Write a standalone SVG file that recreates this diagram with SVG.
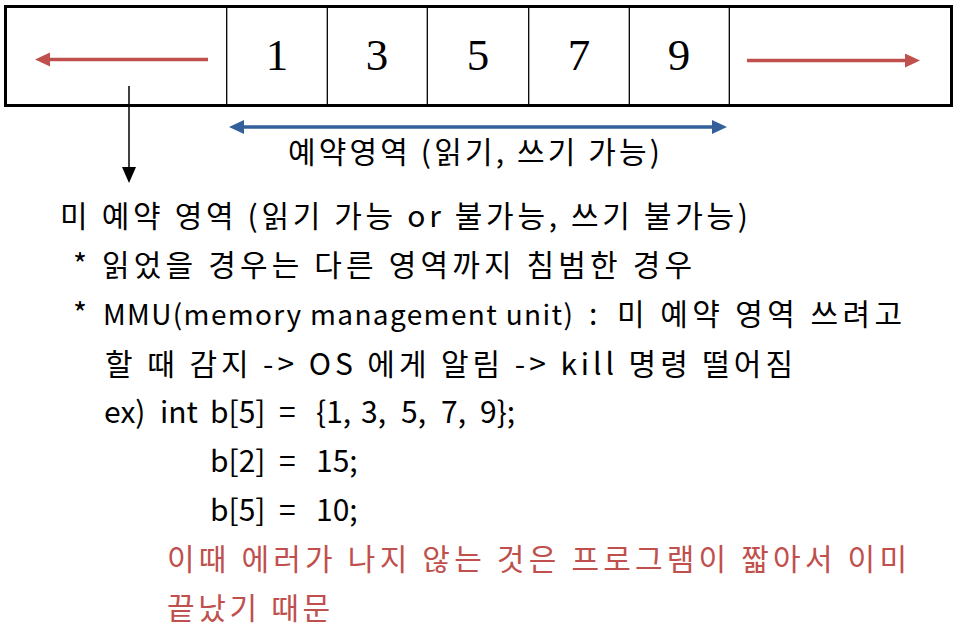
<svg xmlns="http://www.w3.org/2000/svg" width="962" height="631" viewBox="0 0 962 631">
<style>
.cell{fill:none;stroke:#000;stroke-width:1.3}
.num{font-family:"Liberation Serif","DejaVu Serif",serif;font-size:45px;fill:#000;text-anchor:middle}
.t{font-family:"Noto Sans CJK KR","Noto Sans",sans-serif;font-size:30px;fill:#000}
.red{fill:#c0504d}
</style>
<defs>
<marker id="headRed" markerUnits="userSpaceOnUse" markerWidth="16" markerHeight="15" refX="0" refY="7" orient="auto-start-reverse"><path d="M0,0 L15,7 L0,14 z" fill="#c0504d"/></marker>
<marker id="headBlue" markerUnits="userSpaceOnUse" markerWidth="16" markerHeight="15" refX="0" refY="7" orient="auto-start-reverse"><path d="M0,0 L15,7 L0,14 z" fill="#33609a"/></marker>
<marker id="headBlack" markerUnits="userSpaceOnUse" markerWidth="17" markerHeight="15" refX="0" refY="7" orient="auto"><path d="M0,0 L16,7 L0,14 z" fill="#000"/></marker>
</defs>
<rect width="962" height="631" fill="#fff"/>
<g id="memory-bar">
<rect x="5.5" y="6.5" width="946" height="99" fill="#fff" stroke="#000" stroke-width="3"/>
<line class="cell" x1="226.7" y1="8" x2="226.7" y2="104"/>
<line class="cell" x1="327.3" y1="8" x2="327.3" y2="104"/>
<line class="cell" x1="427.3" y1="8" x2="427.3" y2="104"/>
<line class="cell" x1="528.7" y1="8" x2="528.7" y2="104"/>
<line class="cell" x1="629.3" y1="8" x2="629.3" y2="104"/>
<line class="cell" x1="729.3" y1="8" x2="729.3" y2="104"/>
</g>
<g id="cells">
<g id="cell-1"><text class="num" x="277" y="70">1</text></g>
<g id="cell-3"><text class="num" x="377" y="70">3</text></g>
<g id="cell-5"><text class="num" x="478" y="70">5</text></g>
<g id="cell-7"><text class="num" x="579" y="70">7</text></g>
<g id="cell-9"><text class="num" x="679" y="70">9</text></g>
</g>
<g id="connectors">
<line x1="208" y1="59.5" x2="50" y2="59.5" stroke="#c0504d" stroke-width="3.5" marker-end="url(#headRed)"/>
<line x1="747" y1="60.5" x2="905" y2="60.5" stroke="#c0504d" stroke-width="3.5" marker-end="url(#headRed)"/>
<line x1="244" y1="127" x2="712" y2="127" stroke="#33609a" stroke-width="3.5" marker-start="url(#headBlue)" marker-end="url(#headBlue)"/>
<line x1="129" y1="86" x2="129" y2="167" stroke="#000" stroke-width="1.5" marker-end="url(#headBlack)"/>
</g>
<g id="reserved-label">
<text class="t" x="288" y="163" textLength="372" lengthAdjust="spacing">예약영역 (읽기, 쓰기 가능)</text>
</g>
<g id="unreserved-note">
<text class="t" x="60" y="227" textLength="688" lengthAdjust="spacing">미 예약 영역 (읽기 가능 or 불가능, 쓰기 불가능)</text>
<text class="t" x="73" y="276" textLength="619" lengthAdjust="spacing">* 읽었을 경우는 다른 영역까지 침범한 경우</text>
<text class="t" y="325"><tspan x="73">*</tspan><tspan x="103" font-size="28" textLength="470" lengthAdjust="spacing">MMU(memory management unit)</tspan><tspan x="589">:</tspan><tspan x="617" textLength="285" lengthAdjust="spacing">미 예약 영역 쓰려고</tspan></text>
<text class="t" x="105" y="375" textLength="688" lengthAdjust="spacing">할 때 감지 -&gt; OS 에게 알림 -&gt; kill 명령 떨어짐</text>
<text class="t" y="423"><tspan x="104">ex)</tspan><tspan x="160">int</tspan><tspan x="210">b[5]</tspan><tspan x="279">=</tspan><tspan x="316">{1,</tspan><tspan x="361">3,</tspan><tspan x="401">5,</tspan><tspan x="441">7,</tspan><tspan x="480">9};</tspan></text>
<text class="t" y="472"><tspan x="210">b[2]</tspan><tspan x="279">=</tspan><tspan x="316">15;</tspan></text>
<text class="t" y="521"><tspan x="210">b[5]</tspan><tspan x="279">=</tspan><tspan x="316">10;</tspan></text>
<text class="t red" x="167" y="570" textLength="740" lengthAdjust="spacing">이때 에러가 나지 않는 것은 프로그램이 짧아서 이미</text>
<text class="t red" x="167" y="619" textLength="163" lengthAdjust="spacing">끝났기 때문</text>
</g>
</svg>
